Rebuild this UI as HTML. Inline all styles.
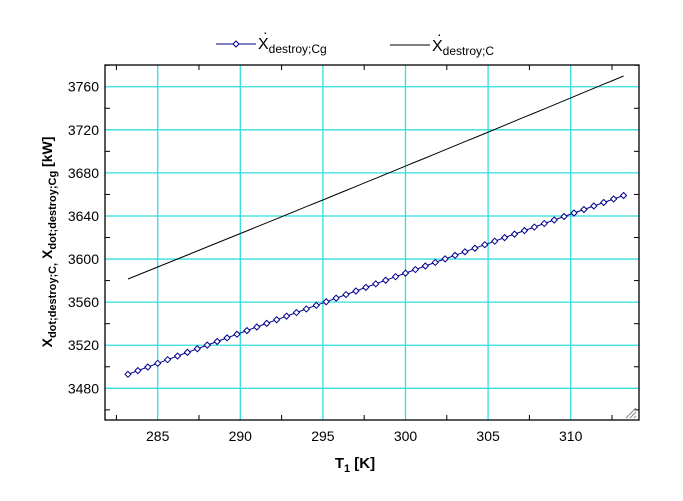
<!DOCTYPE html>
<html><head><style>body{margin:0;background:#fff}svg{display:block}</style></head><body>
<svg id="s" width="683" height="501" xmlns="http://www.w3.org/2000/svg" font-family="Liberation Sans, Arial, sans-serif">
<rect width="683" height="501" fill="#fff"/>
<g id="grid" stroke="#33dddd" stroke-width="1.3"></g>
<g id="ticks" stroke="#000" stroke-width="1"></g>
<rect x="105" y="65" width="534" height="355" fill="none" stroke="#000" stroke-width="1.3"/>
<g id="lbl" font-size="14" fill="#000"></g>
<path id="black" fill="none" stroke="#000" stroke-width="1"/>
<path id="blue" fill="none" stroke="#00008b" stroke-width="1"/>
<g id="mk" fill="#fff" stroke="#00008b" stroke-width="1"></g>
<path d="M626 418 L636 408 M630 418 L636 412 M634 418 L636 416" stroke="#888" stroke-width="1"/>
<text x="355" y="468" font-size="15" font-weight="bold" text-anchor="middle">T<tspan font-size="11" dy="4">1</tspan><tspan dy="-4">  [K]</tspan></text>
<text transform="translate(52,242) rotate(-90)" font-size="14" font-weight="bold" text-anchor="middle">X<tspan font-size="11" dy="4">dot;destroy;C,</tspan><tspan dy="-4">  X</tspan><tspan font-size="11" dy="4">dot;destroy;Cg</tspan><tspan dy="-4">  [kW]</tspan></text>
<line x1="216" y1="44" x2="256" y2="44" stroke="#00008b"/>
<path d="M236 41 L239 44 L236 47 L233 44Z" fill="#fff" stroke="#00008b"/>
<text x="258" y="49" font-size="16">X<tspan font-size="12" dy="4">destroy;Cg</tspan></text>
<text x="263" y="37" font-size="14">·</text>
<line x1="390" y1="45" x2="430" y2="45" stroke="#000"/>
<text x="432" y="51" font-size="16">X<tspan font-size="12" dy="4">destroy;C</tspan></text>
<text x="437" y="39" font-size="14">·</text>
</svg>
<script>
const X=t=>157.7+(t-285)*16.52, Y=v=>388.3-(v-3480)*1.077;
const g=document.getElementById('grid'),tk=document.getElementById('ticks'),lb=document.getElementById('lbl');
let h='',k='',l='';
for(let t=285;t<=310;t+=5){h+=`<line x1="${X(t)}" y1="65" x2="${X(t)}" y2="420"/>`;l+=`<text x="${X(t)}" y="441" text-anchor="middle">${t}</text>`;}
for(let t=282.5;t<=313;t+=5){k+=`<line x1="${X(t)}" y1="420" x2="${X(t)}" y2="415"/><line x1="${X(t)}" y1="65" x2="${X(t)}" y2="70"/>`;}
for(let v=3480;v<=3760;v+=40){h+=`<line x1="105" y1="${Y(v)}" x2="639" y2="${Y(v)}"/>`;l+=`<text x="99" y="${Y(v)+5}" text-anchor="end">${v}</text>`;}
for(let v=3460;v<=3780;v+=40){if(Y(v)>65&&Y(v)<420)k+=`<line x1="105" y1="${Y(v)}" x2="110" y2="${Y(v)}"/><line x1="639" y1="${Y(v)}" x2="634" y2="${Y(v)}"/>`;}
g.innerHTML=h;tk.innerHTML=k;lb.innerHTML=l;
function q(t,a,m,b){const u=(t-283.2)/30;return a*(1-u)*(1-2*u)+4*m*u*(1-u)+b*u*(2*u-1);}
let pb='',pk='',mk='';const n=50;
for(let i=0;i<=n;i++){const t=283.2+30*i/n;const yb=Y(q(t,3493,3577,3659)),yk=Y(q(t,3581.5,3675,3770));
pb+=(i?'L':'M')+X(t).toFixed(1)+' '+yb.toFixed(1);pk+=(i?'L':'M')+X(t).toFixed(1)+' '+yk.toFixed(1);
mk+=`<path d="M${X(t)} ${yb-3}L${X(t)+3} ${yb}L${X(t)} ${yb+3}L${X(t)-3} ${yb}Z"/>`;}
document.getElementById('blue').setAttribute('d',pb);document.getElementById('black').setAttribute('d',pk);document.getElementById('mk').innerHTML=mk;
</script>
</body></html>
